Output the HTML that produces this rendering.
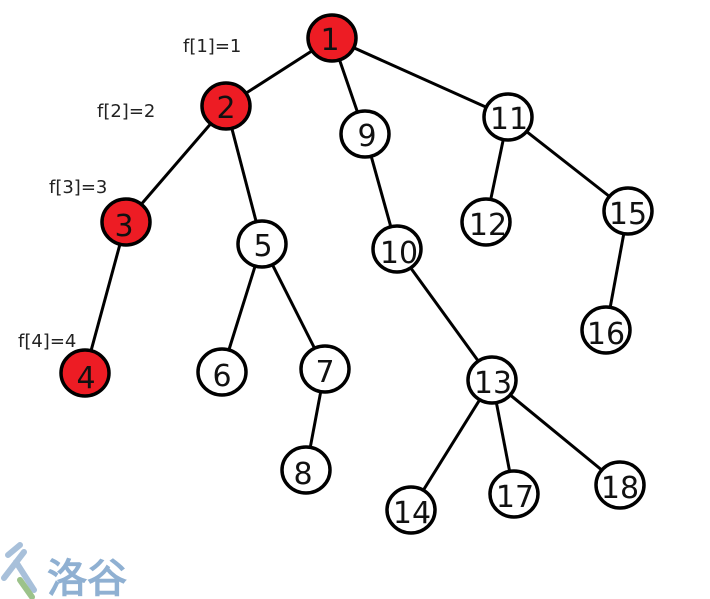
<!DOCTYPE html>
<html><head><meta charset="utf-8"><style>
html,body{margin:0;padding:0;background:#fff;width:710px;height:599px;overflow:hidden}
svg{display:block}
text{font-family:"DejaVu Sans","Liberation Sans",sans-serif}
</style></head><body>
<svg width="710" height="599" viewBox="0 0 710 599" xmlns="http://www.w3.org/2000/svg">
<g stroke="#000" stroke-width="3">
<line x1="332" y1="38" x2="226" y2="106"/>
<line x1="332" y1="38" x2="365" y2="134"/>
<line x1="332" y1="38" x2="508" y2="117"/>
<line x1="226" y1="106" x2="126" y2="222"/>
<line x1="226" y1="106" x2="262" y2="244"/>
<line x1="126" y1="222" x2="85" y2="373"/>
<line x1="262" y1="244" x2="222" y2="372"/>
<line x1="262" y1="244" x2="325" y2="369"/>
<line x1="325" y1="369" x2="306" y2="470"/>
<line x1="365" y1="134" x2="397" y2="249"/>
<line x1="397" y1="249" x2="492" y2="380"/>
<line x1="492" y1="380" x2="411" y2="510"/>
<line x1="492" y1="380" x2="514" y2="494"/>
<line x1="492" y1="380" x2="620" y2="485"/>
<line x1="508" y1="117" x2="486" y2="222"/>
<line x1="508" y1="117" x2="628" y2="211"/>
<line x1="628" y1="211" x2="606" y2="330"/>
</g>
<g stroke="#000" stroke-width="3.5">
<ellipse cx="332" cy="38" rx="24" ry="23" fill="#ed1c24"/>
<ellipse cx="226" cy="106" rx="24" ry="23" fill="#ed1c24"/>
<ellipse cx="126" cy="222" rx="24" ry="23" fill="#ed1c24"/>
<ellipse cx="85" cy="373" rx="24" ry="23" fill="#ed1c24"/>
<ellipse cx="365" cy="134" rx="24" ry="23" fill="#fff"/>
<ellipse cx="508" cy="117" rx="24" ry="23" fill="#fff"/>
<ellipse cx="262" cy="244" rx="24" ry="23" fill="#fff"/>
<ellipse cx="397" cy="249" rx="24" ry="23" fill="#fff"/>
<ellipse cx="486" cy="222" rx="24" ry="23" fill="#fff"/>
<ellipse cx="628" cy="211" rx="24" ry="23" fill="#fff"/>
<ellipse cx="606" cy="330" rx="24" ry="23" fill="#fff"/>
<ellipse cx="222" cy="372" rx="24" ry="23" fill="#fff"/>
<ellipse cx="325" cy="369" rx="24" ry="23" fill="#fff"/>
<ellipse cx="306" cy="470" rx="24" ry="23" fill="#fff"/>
<ellipse cx="492" cy="380" rx="24" ry="23" fill="#fff"/>
<ellipse cx="411" cy="510" rx="24" ry="23" fill="#fff"/>
<ellipse cx="514" cy="494" rx="24" ry="23" fill="#fff"/>
<ellipse cx="620" cy="485" rx="24" ry="23" fill="#fff"/>
</g>
<g font-size="30" fill="#111" text-anchor="middle" font-family="Liberation Sans,sans-serif">
<text x="330" y="50">1</text>
<text x="226" y="118">2</text>
<text x="124" y="236">3</text>
<text x="86" y="388">4</text>
<text x="263" y="256">5</text>
<text x="222" y="386">6</text>
<text x="325" y="382">7</text>
<text x="303" y="484">8</text>
<text x="367" y="146">9</text>
<text x="399" y="263">10</text>
<text x="509" y="129">11</text>
<text x="488" y="235">12</text>
<text x="493" y="393">13</text>
<text x="412" y="523">14</text>
<text x="628" y="224">15</text>
<text x="606" y="344">16</text>
<text x="515" y="507">17</text>
<text x="620" y="498">18</text>
</g>
<g font-size="18" fill="#222" font-family="DejaVu Sans,sans-serif">
<text x="183" y="52">f[1]=1</text>
<text x="97" y="117">f[2]=2</text>
<text x="49" y="193">f[3]=3</text>
<text x="18" y="347">f[4]=4</text>
</g>
<text x="47" y="592" font-size="40" fill="#8fb0d2" font-weight="bold" font-family="Noto Sans CJK SC,sans-serif">洛谷</text>
<path d="M8 555 L20 545 M24 552 L4 578 M16 562 L34 590" stroke="#a8c0da" stroke-width="6" fill="none" stroke-linecap="round"/>
<path d="M20 580 L32 597" stroke="#9cc28a" stroke-width="6" fill="none" stroke-linecap="round"/>
</svg>
</body></html>
